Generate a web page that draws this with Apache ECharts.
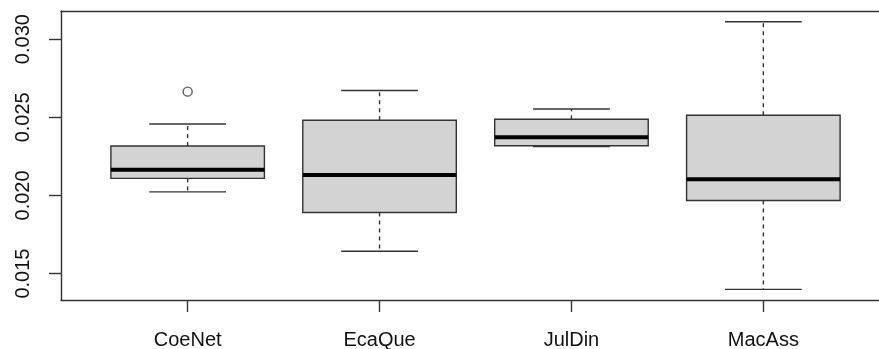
<!DOCTYPE html>
<html>
<head>
<meta charset="utf-8">
<script src="https://cdn.jsdelivr.net/npm/echarts@6/dist/echarts.min.js"></script>
<style>
  html, body { margin: 0; padding: 0; background: #fff; overflow: hidden; }
  #chart { width: 879px; height: 349px; }
</style>
</head>
<body>
<div id="chart"></div>
<script>
// Box-plot statistics per group
const categories = ['CoeNet', 'EcaQue', 'JulDin', 'MacAss'];
const lowerWhisker = [0.02023, 0.01643, 0.02312, 0.01399];
const lowerQuartile = [0.02109, 0.01891, 0.02318, 0.01968];
const medians = [0.02164, 0.02130, 0.02372, 0.02103];
const upperQuartile = [0.02316, 0.02481, 0.02487, 0.02513];
const upperWhisker = [0.02457, 0.02671, 0.02553, 0.03111];
// outliers as [group index (1-based), value]
const outliers = [[1, 0.02664]];
const yTicks = [0.015, 0.020, 0.025, 0.030];

const boxRows = categories.map((c, i) => [
  i + 1, lowerWhisker[i], lowerQuartile[i], medians[i], upperQuartile[i], upperWhisker[i]
]);
const groupPositions = categories.map((c, i) => i + 1);

const FONT = '"Liberation Sans", Arial, Helvetica, sans-serif';
const INK = '#333';
const LW = 1.4;
const frameLine = { show: true, onZero: false, lineStyle: { color: INK, width: LW } };

function renderBox(params, api) {
  const x = api.value(0);
  const lw = api.value(1), q1 = api.value(2), med = api.value(3), q3 = api.value(4), uw = api.value(5);
  const unit = api.coord([x + 1, 0])[0] - api.coord([x, 0])[0];
  const cx = api.coord([x, med])[0];
  const boxHalf = unit * 0.4;
  const stapleHalf = unit * 0.2;
  const yLw = api.coord([x, lw])[1];
  const yQ1 = api.coord([x, q1])[1];
  const yMed = api.coord([x, med])[1];
  const yQ3 = api.coord([x, q3])[1];
  const yUw = api.coord([x, uw])[1];
  const thin = { stroke: INK, lineWidth: LW };
  const dashed = { stroke: INK, lineWidth: LW, lineDash: [4, 4] };
  return {
    type: 'group',
    children: [
      { type: 'line', shape: { x1: cx, y1: yQ3, x2: cx, y2: yUw }, style: dashed },
      { type: 'line', shape: { x1: cx, y1: yQ1, x2: cx, y2: yLw }, style: dashed },
      { type: 'line', shape: { x1: cx - stapleHalf, y1: yUw, x2: cx + stapleHalf, y2: yUw }, style: thin },
      { type: 'line', shape: { x1: cx - stapleHalf, y1: yLw, x2: cx + stapleHalf, y2: yLw }, style: thin },
      {
        type: 'rect',
        shape: { x: cx - boxHalf, y: yQ3, width: boxHalf * 2, height: yQ1 - yQ3 },
        style: { fill: '#d3d3d3', stroke: INK, lineWidth: LW }
      },
      { type: 'line', shape: { x1: cx - boxHalf, y1: yMed, x2: cx + boxHalf, y2: yMed }, style: { stroke: '#000', lineWidth: 4 } }
    ]
  };
}

const chart = echarts.init(document.getElementById('chart'), null, { renderer: 'canvas' });
chart.setOption({
  animation: false,
  backgroundColor: '#fff',
  grid: {
    left: 61, top: 11, width: 829, height: 289,
    outerBoundsMode: 'none',
    containLabel: false,
    show: false
  },
  xAxis: [
    {
      type: 'value',
      position: 'bottom',
      min: 0.34,
      max: 4.66,
      splitLine: { show: false },
      axisLine: frameLine,
      axisTick: { show: true, length: 12, customValues: groupPositions, lineStyle: { color: INK, width: LW } },
      axisLabel: {
        customValues: groupPositions,
        formatter: v => categories[Math.round(v) - 1] || '',
        margin: 30,
        fontFamily: FONT, fontSize: 20, color: '#111'
      }
    },
    {
      // top edge of the frame
      type: 'value',
      position: 'top',
      min: 0.34,
      max: 4.66,
      splitLine: { show: false },
      axisLine: frameLine,
      axisTick: { show: false },
      axisLabel: { show: false }
    }
  ],
  yAxis: {
    type: 'value',
    min: 0.01331,
    max: 0.03180,
    splitLine: { show: false },
    axisLine: frameLine,
    axisTick: { show: true, length: 12, customValues: yTicks, lineStyle: { color: INK, width: LW } },
    axisLabel: {
      customValues: yTicks,
      rotate: 90,
      formatter: v => v.toFixed(3),
      margin: 28,
      fontFamily: FONT, fontSize: 20, color: '#111'
    }
  },
  series: [
    {
      type: 'custom',
      renderItem: renderBox,
      data: boxRows,
      encode: { x: 0, y: [1, 2, 3, 4, 5] },
      z: 2
    },
    {
      type: 'scatter',
      data: outliers,
      symbol: 'circle',
      symbolSize: 9,
      itemStyle: { color: '#fff', borderColor: INK, borderWidth: 1.4 },
      z: 3
    }
  ]
});
</script>
</body>
</html>
